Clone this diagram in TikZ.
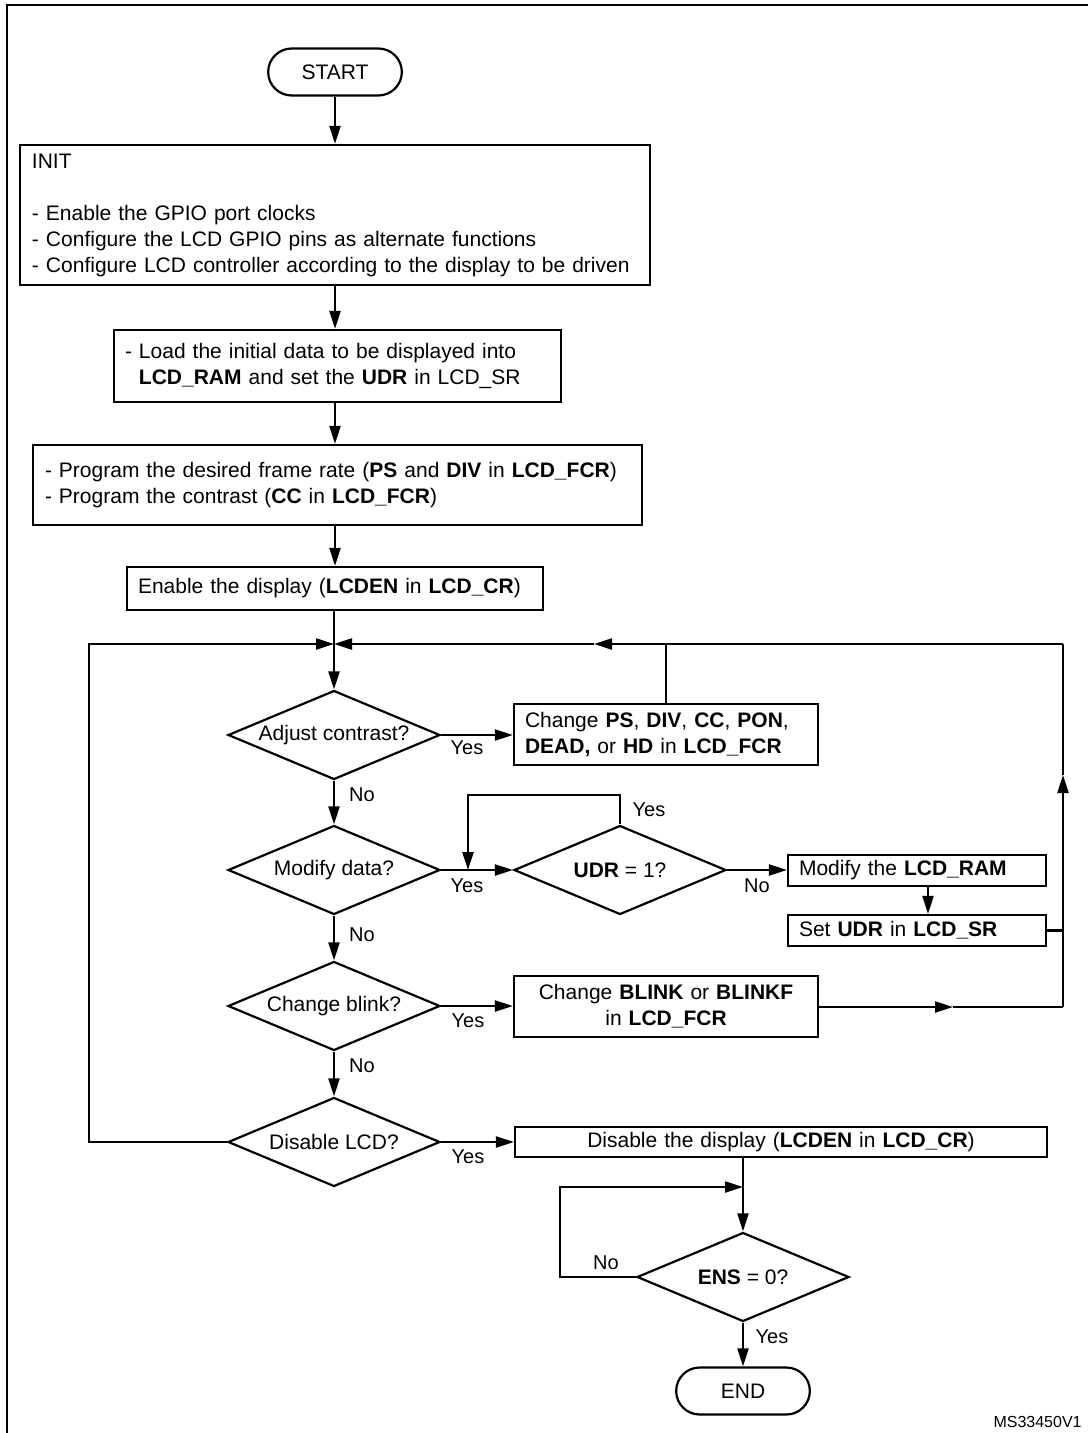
\documentclass[tikz,border=0pt]{standalone}
\usepackage{fontspec}
\setmainfont{Liberation Sans}
\usetikzlibrary{arrows.meta,shapes.geometric,shapes.misc}
\tikzset{
    flow-box/.style = {draw, line width=1.1pt, rectangle, inner xsep=5.5pt, inner ysep=1pt, font=\fontsize{10.5pt}{13pt}\selectfont},
    flow-box-left/.style = {flow-box, align=left},
    flow-box-centre/.style = {flow-box, align=center},
    flow-term/.style = {draw, line width=1.1pt, rounded rectangle, minimum width=73.5pt, minimum height=23.5pt, font=\fontsize{10.5pt}{13pt}\selectfont},
    flow-test/.style = {draw, line width=1.1pt, diamond, aspect=2.4, inner sep=0pt, minimum width=106pt, minimum height=44.5pt, font=\fontsize{10.5pt}{13pt}\selectfont},
    flow-label/.style = {inner sep=0pt, font=\fontsize{10pt}{12pt}\selectfont},
    flow-arrow/.style = {line width=1.1pt, -{Triangle[length=9pt,width=5.5pt]}},
    flow-line/.style = {line width=1.1pt},
}

\begin{document}
\begin{tikzpicture}[x=0.5pt,y=-0.5pt]
\useasboundingbox (0,0) rectangle (1087,1433);
\draw[line width=1.1pt] (7,5) rectangle (1100,1450);

% main column
\node[flow-term] (start) at (335,72) {START};
\node[flow-box-left, text width=303pt, inner xsep=6pt, minimum height=70pt] (init) at (335,215) {INIT\\[13pt]- Enable the GPIO port clocks\\- Configure the LCD GPIO pins as alternate functions\\- Configure LCD controller according to the display to be driven};
\node[flow-box-left, text width=212.5pt, minimum height=36pt] (load) at (337.5,366) {- Load the initial data to be displayed into\\\phantom{- }\textbf{LCD\_RAM} and set the \textbf{UDR} in LCD\_SR};
\node[flow-box-left, text width=292.5pt, inner xsep=6pt, minimum height=40pt] (prog) at (337.5,485) {- Program the desired frame rate (\textbf{PS} and \textbf{DIV} in \textbf{LCD\_FCR})\\- Program the contrast (\textbf{CC} in \textbf{LCD\_FCR})};
\node[flow-box-left, text width=197pt, minimum height=21.5pt] (enable) at (335,588.5) {Enable the display (\textbf{LCDEN} in \textbf{LCD\_CR})};

\coordinate (merge) at (334,644);
\node[flow-test] (adjust) at (334,735) {Adjust contrast?};
\node[flow-box-left, text width=141pt, minimum height=30.5pt] (contrast) at (666,734.5) {Change \textbf{PS}, \textbf{DIV}, \textbf{CC}, \textbf{PON},\\\textbf{DEAD,} or \textbf{HD} in \textbf{LCD\_FCR}};
\node[flow-test] (modify) at (334,870) {Modify data?};
\node[flow-test] (udr) at (620,870) {\textbf{UDR} = 1?};
\node[flow-box-left, text width=118pt, minimum height=15.5pt] (ram) at (917,870.5) {Modify the \textbf{LCD\_RAM}};
\node[flow-box-left, text width=118pt, minimum height=15.5pt] (setudr) at (917,930.5) {Set \textbf{UDR} in \textbf{LCD\_SR}};
\node[flow-test] (blink) at (334,1006) {Change blink?};
\node[flow-box-centre, text width=141pt, minimum height=30.5pt] (blinkbox) at (666,1006.5) {Change \textbf{BLINK} or \textbf{BLINKF}\\in \textbf{LCD\_FCR}};
\node[flow-test] (disable) at (334,1142) {Disable LCD?};
\node[flow-box-centre, text width=255pt, minimum height=15pt] (disbox) at (781,1142) {Disable the display (\textbf{LCDEN} in \textbf{LCD\_CR})};
\node[flow-test] (ens) at (743,1277) {\textbf{ENS} = 0?};
\node[flow-term] (end) at (743,1391) {END};

% loop corners
\coordinate (loopleft) at (89,644);
\coordinate (loopright) at (1063,644);
\coordinate (backtip) at (594,644);
\coordinate (blinktip) at (953,1007);
\coordinate (rightcorner) at (1063,1007);
\coordinate (uptip) at (1063,775);
\coordinate (udrloop) at (468,795);
\coordinate (ensloop) at (560,1187);

% connectors
\draw[flow-arrow] (start.south -| init.north) -- (init.north);
\draw[flow-arrow] (init.south) -- (init.south |- load.north);
\draw[flow-arrow] (load.south -| init.south) -- (init.south |- prog.north);
\draw[flow-arrow] (prog.south -| init.south) -- (init.south |- enable.north);
\draw[flow-line] (enable.south -| merge) -- (merge);
\draw[flow-arrow] (merge) -- (adjust.north);
\draw[flow-arrow] (adjust.east) -- (adjust.east -| contrast.west);
\draw[flow-line] (contrast.north) -- (contrast.north |- merge);
\draw[flow-arrow] (adjust.south) -- (modify.north);
\draw[flow-arrow] (modify.east) -- (udr.west);
\draw[flow-arrow] (udr.north) |- (udrloop) -- (udrloop |- modify.east);
\draw[flow-arrow] (udr.east) -- (udr.east -| ram.west);
\draw[flow-arrow] ([xshift=5.5pt]ram.south) -- ([xshift=5.5pt]setudr.north);
\draw[flow-line] (setudr.east) -- (setudr.east -| rightcorner);
\draw[flow-arrow] (modify.south) -- (blink.north);
\draw[flow-arrow] (blink.east) -- (blink.east -| blinkbox.west);
\draw[flow-arrow] (blinkbox.east |- blinktip) -- (blinktip);
\draw[flow-line] (blinktip) -- (rightcorner);
\draw[flow-arrow] (rightcorner) -- (uptip);
\draw[flow-line] (uptip) -- (loopright);
\draw[flow-arrow] (loopright) -- (backtip);
\draw[flow-arrow] (backtip) -- (merge);
\draw[flow-arrow] (blink.south) -- (disable.north);
\draw[flow-arrow] (disable.west) -| (loopleft) -- (merge);
\draw[flow-arrow] (disable.east) -- (disable.east -| disbox.west);
\draw[flow-arrow] (disbox.south -| ens.north) -- (ens.north);
\draw[flow-arrow] (ens.west) -| (ensloop) -- (ensloop -| ens.north);
\draw[flow-arrow] (ens.south) -- (end.north);

% branch labels
\node[flow-label] (yes-adjust) at (467,748) {Yes};
\node[flow-label] (no-adjust) at (362,795) {No};
\node[flow-label] (yes-modify) at (467,886) {Yes};
\node[flow-label] (yes-udr) at (649,810) {Yes};
\node[flow-label] (no-udr) at (757,886) {No};
\node[flow-label] (no-modify) at (362,935) {No};
\node[flow-label] (yes-blink) at (468,1021) {Yes};
\node[flow-label] (no-blink) at (362,1066) {No};
\node[flow-label] (yes-disable) at (468,1157) {Yes};
\node[flow-label] (no-ens) at (606,1263) {No};
\node[flow-label] (yes-ens) at (772,1337) {Yes};

\node[inner sep=0pt, anchor=east, font=\fontsize{8pt}{10pt}\selectfont] (ref) at (1082,1422) {MS33450V1};
\end{tikzpicture}
\end{document}
